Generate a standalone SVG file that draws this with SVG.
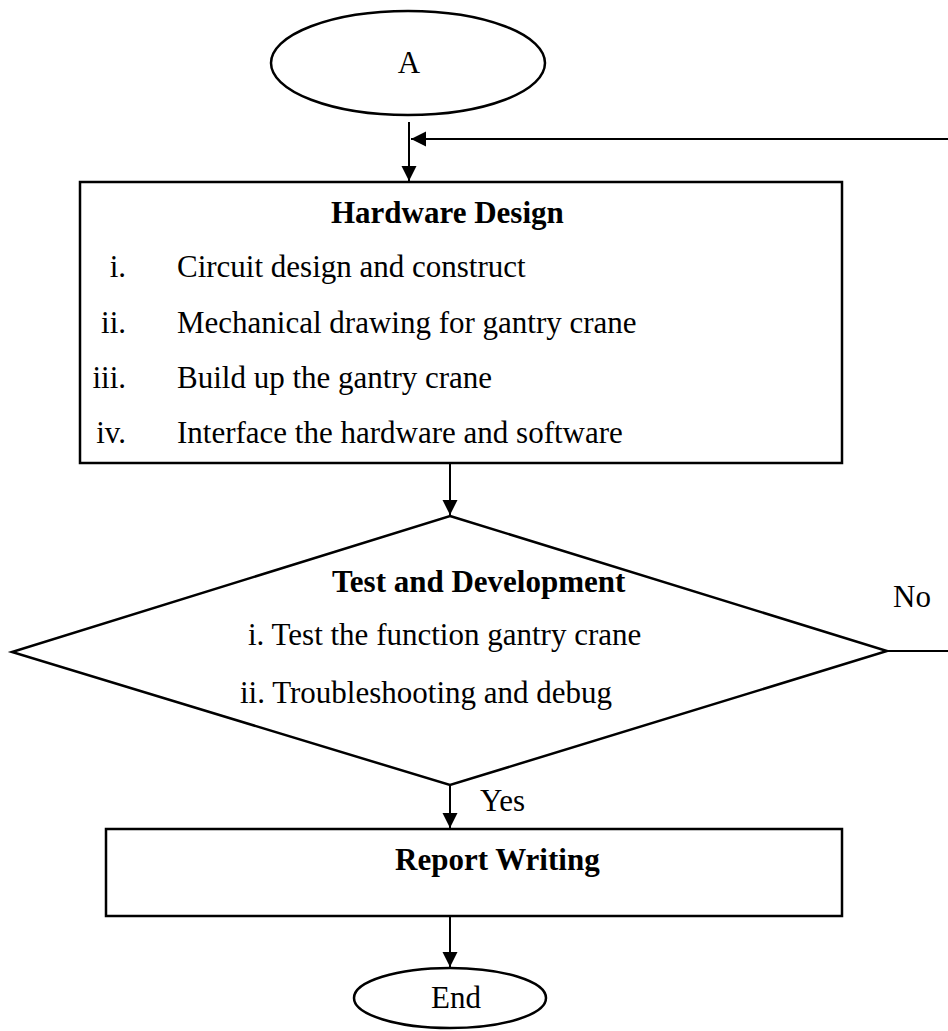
<svg xmlns="http://www.w3.org/2000/svg" width="948" height="1031" viewBox="0 0 948 1031">
  <defs>
    <marker id="arrow" markerUnits="userSpaceOnUse" markerWidth="16" markerHeight="16" refX="15" refY="7.5" orient="auto">
      <path d="M0,0 L15,7.5 L0,15 z" fill="#000"/>
    </marker>
  </defs>
  <style>
    .shape { fill: #fff; stroke: #000; stroke-width: 2.5; }
    .conn { fill: none; stroke: #000; stroke-width: 2; }
    text { font-family: "Liberation Serif", "Times New Roman", serif; font-size: 31px; fill: #000; }
    .b { font-weight: bold; }
    .num { text-anchor: end; }
  </style>
  <rect width="948" height="1031" fill="#fff"/>

  <g id="connectors">
    <path class="conn" d="M409,122 L409,181" marker-end="url(#arrow)"/>
    <path class="conn" d="M887,651 L952,651 L952,139 L411,139" marker-end="url(#arrow)"/>
    <path class="conn" d="M450,463 L450,515" marker-end="url(#arrow)"/>
    <path class="conn" d="M450,785 L450,828" marker-end="url(#arrow)"/>
    <path class="conn" d="M450,916 L450,967" marker-end="url(#arrow)"/>
  </g>

  <g id="node-a">
    <ellipse class="shape" cx="408" cy="63" rx="137" ry="52"/>
    <text x="409" y="73" text-anchor="middle">A</text>
  </g>

  <g id="node-hardware">
    <rect class="shape" x="80" y="182" width="762" height="281"/>
    <text class="b" x="331" y="223">Hardware Design</text>
    <text class="num" x="126" y="277">i.</text>
    <text x="177" y="277">Circuit design and construct</text>
    <text class="num" x="126" y="333">ii.</text>
    <text x="177" y="333">Mechanical drawing for gantry crane</text>
    <text class="num" x="126" y="388">iii.</text>
    <text x="177" y="388">Build up the gantry crane</text>
    <text class="num" x="126" y="443">iv.</text>
    <text x="177" y="443">Interface the hardware and software</text>
  </g>

  <g id="node-test">
    <polygon class="shape" points="450,516 887,651 450,785 12,652"/>
    <text class="b" x="332" y="592">Test and Development</text>
    <text x="248" y="645">i. Test the function gantry crane</text>
    <text x="240" y="703">ii. Troubleshooting and debug</text>
  </g>

  <g id="labels">
    <text x="893" y="607">No</text>
    <text x="480" y="811">Yes</text>
  </g>

  <g id="node-report">
    <rect class="shape" x="106" y="829" width="736" height="87"/>
    <text class="b" x="395" y="870">Report Writing</text>
  </g>

  <g id="node-end">
    <ellipse class="shape" cx="450" cy="998" rx="96" ry="30"/>
    <text x="456" y="1008" text-anchor="middle">End</text>
  </g>
</svg>
